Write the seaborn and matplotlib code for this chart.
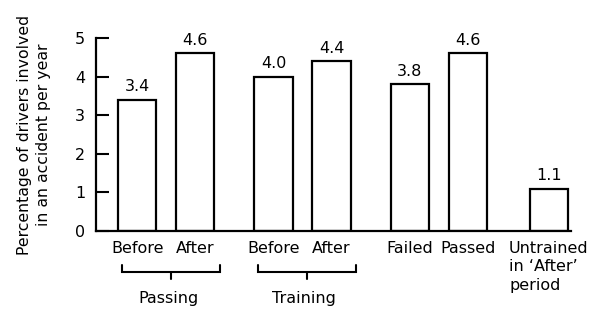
import matplotlib
matplotlib.use("Agg")
import matplotlib.pyplot as plt
import matplotlib.transforms as mtransforms
import seaborn as sns
import pandas as pd

# ---- data ----
categories = ["Before", "After", "Before", "After", "Failed", "Passed",
              "Untrained\nin \u2018After\u2019\nperiod"]
values = [3.4, 4.6, 4.0, 4.4, 3.8, 4.6, 1.1]
value_labels = ["3.4", "4.6", "4.0", "4.4", "3.8", "4.6", "1.1"]
group_index = [0, 0, 1, 1, 2, 2, 3]
within_index = [0, 1, 0, 1, 0, 1, 0]
bracket_groups = ["Passing", "Training"]
y_ticks = [0, 1, 2, 3, 4, 5]
y_label = "Percentage of drivers involved\nin an accident per year"

# ---- layout ----
GROUP_STEP = 2.35
positions = [g * GROUP_STEP + w for g, w in zip(group_index, within_index)]
positions[-1] += 0.05

sns.set_style("white")
plt.rcParams["font.family"] = ["DejaVu Sans"]
plt.rcParams["text.color"] = "black"
plt.rcParams["axes.labelcolor"] = "black"

fig = plt.figure(figsize=(6.01, 3.11), dpi=100)
ax = fig.add_axes([0.16, 0.257, 0.79, 0.621])

df = pd.DataFrame({"pos": positions, "value": values})
sns.barplot(data=df, x="pos", y="value", native_scale=True, width=0.66,
            color="white", saturation=1, edgecolor="black", linewidth=1.6,
            errorbar=None, ax=ax)

for c in ax.containers:
    ax.bar_label(c, labels=value_labels, padding=4, fontsize=11.5, color="black")

ax.set_ylim(0, 5)
ax.set_xlim(-0.71, 7.48)
ax.set_yticks(y_ticks)
ax.set_yticklabels([str(t) for t in y_ticks], fontsize=11.5)
ax.set_xticks(positions)
ax.set_xticklabels(categories, fontsize=11.5)
xlbls = ax.get_xticklabels()
for lbl in xlbls:
    lbl.set_multialignment("left")
    lbl.set_linespacing(1.3)
xlbls[-1].set_transform(xlbls[-1].get_transform() +
                        mtransforms.ScaledTranslation(4 / 100, 0, fig.dpi_scale_trans))
ax.tick_params(axis="y", left=True, direction="in", length=9.5, width=1.5,
               pad=8, colors="black")
ax.tick_params(axis="x", bottom=False, length=0, pad=7, colors="black")
ax.set_xlabel("")
ax.set_ylabel(y_label, fontsize=11.3, linespacing=1.35, labelpad=17, color="black")

for side in ["top", "right"]:
    ax.spines[side].set_visible(False)
for side in ["left", "bottom"]:
    ax.spines[side].set_linewidth(1.6)
    ax.spines[side].set_color("black")

# brackets under the paired groups
for gi, name in enumerate(bracket_groups):
    xs = [p for p, g in zip(positions, group_index) if g == gi]
    x0, x1 = xs[0] - 0.27, xs[-1] + 0.43
    xm = (x0 + x1) / 2
    ax.plot([x0, x0, x1, x1], [-0.88, -1.06, -1.06, -0.88], color="black",
            lw=1.5, clip_on=False, solid_joinstyle="miter")
    ax.plot([xm, xm], [-1.06, -1.24], color="black", lw=1.5, clip_on=False)
    ax.text((xs[0] + xs[-1]) / 2 + 0.03, -1.74, name, ha="center", va="center",
            fontsize=11.5, color="black")

fig.savefig("out.png", dpi=100, facecolor="white")
